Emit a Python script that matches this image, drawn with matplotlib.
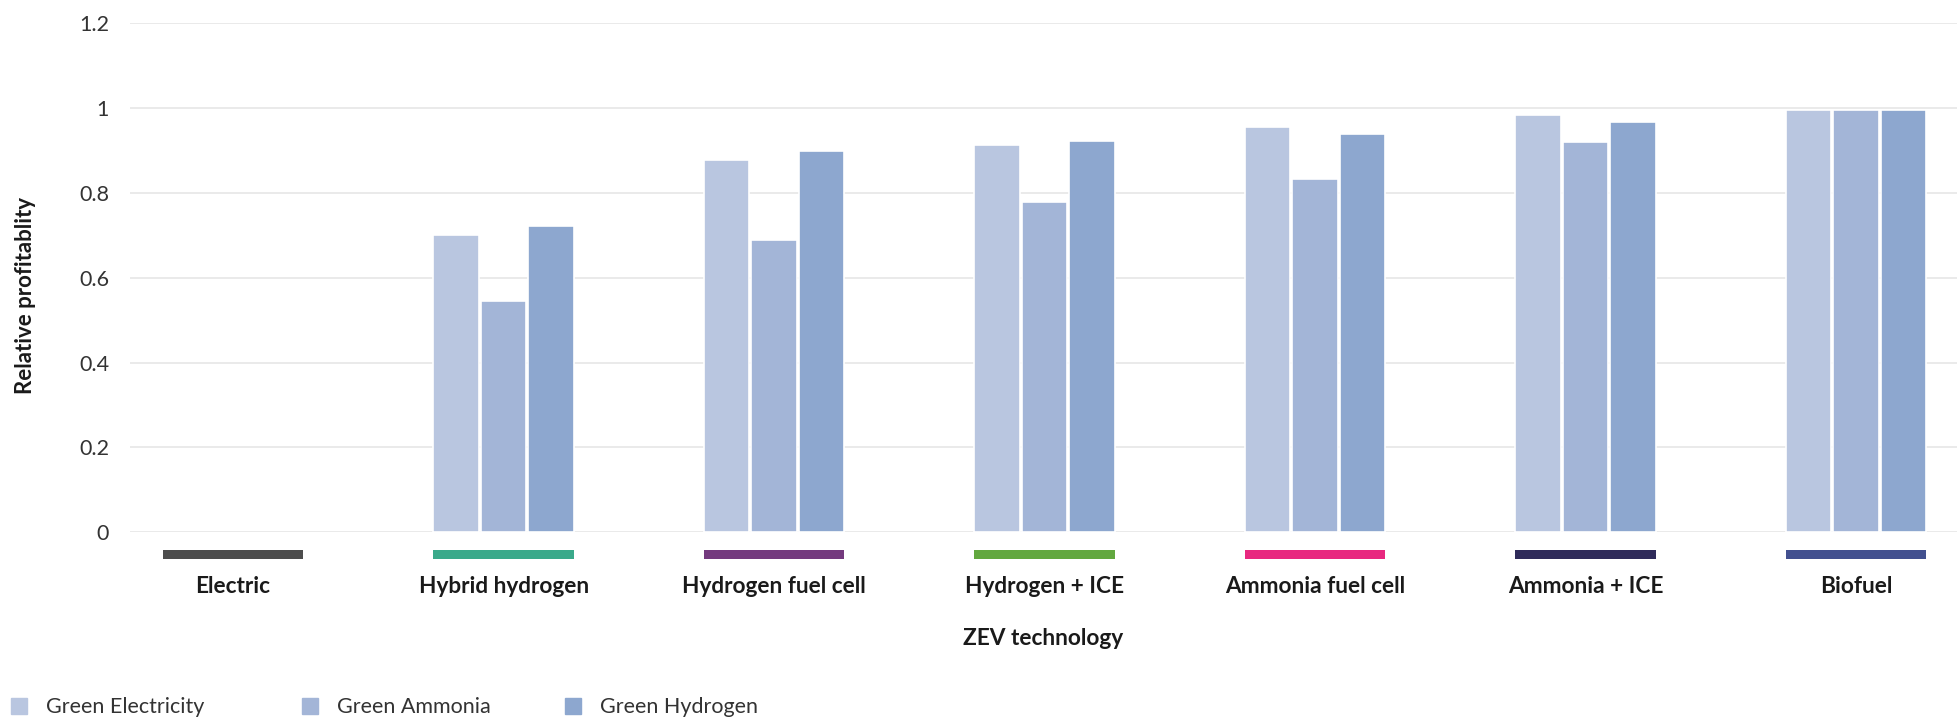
import matplotlib.pyplot as plt
from matplotlib.patches import Rectangle
from matplotlib.ticker import FuncFormatter
import numpy as np

categories = ["Electric", "Hybrid hydrogen", "Hydrogen fuel cell", "Hydrogen + ICE",
              "Ammonia fuel cell", "Ammonia + ICE", "Biofuel"]
category_colors = ["#4d4d4d", "#3aa98a", "#743a7e", "#62a83f", "#e8287f", "#2f2b5a", "#42508f"]

series_names = ["Green Electricity", "Green Ammonia", "Green Hydrogen"]
series_colors = ["#b9c6e0", "#a3b5d7", "#8da7cf"]

green_electricity = [np.nan, 0.700, 0.878, 0.913, 0.955, 0.984, 0.995]
green_ammonia = [np.nan, 0.545, 0.690, 0.778, 0.833, 0.920, 0.995]
green_hydrogen = [np.nan, 0.722, 0.899, 0.922, 0.939, 0.967, 0.995]

plt.rcParams['font.family'] = ['Lato', 'DejaVu Sans']

fig = plt.figure(figsize=(19.57, 7.2), dpi=100)
ax = fig.add_axes([130 / 1957, 0.2607, 1 - 130 / 1957, 0.7069])

x = np.arange(len(categories))
slot = 0.1756
for i, (vals, col) in enumerate(zip([green_electricity, green_ammonia, green_hydrogen], series_colors)):
    ax.bar(x + (i - 1) * slot, vals, width=0.168, color=col, edgecolor='white',
           linewidth=1.2, zorder=3)

# coloured marker under each category
ax.bar(x, 0.021, bottom=-0.063, width=0.52, color=category_colors, clip_on=False, zorder=3)

ax.set_xlim(-0.381, 6.373)
ax.set_ylim(0, 1.2)
ax.set_yticks(np.arange(0, 1.21, 0.2))
ax.yaxis.set_major_formatter(FuncFormatter(lambda v, p: '%g' % round(v, 1)))
ax.grid(axis='y', color='#e6e6e6', linewidth=1.2, zorder=0)
ax.set_axisbelow(True)
for s in ax.spines.values():
    s.set_visible(False)
ax.tick_params(axis='y', length=0, pad=15, labelsize=15.5, labelcolor='#333333')
ax.set_xticks(x, categories)
ax.tick_params(axis='x', length=0, pad=31.5, labelsize=16.3)
for lab in ax.get_xticklabels():
    lab.set_fontweight('bold')
    lab.set_color('#1a1a1a')

ax.set_xlabel('ZEV technology', fontsize=16.3, fontweight='bold', color='#1a1a1a', labelpad=22)
fig.text(26 / 1957, 1 - 295 / 720, 'Relative profitablity', rotation=90, ha='center',
         va='center', fontsize=16, fontweight='bold', color='#1a1a1a')

# legend
legend_x = [11, 302, 565]
for name, col, lx in zip(series_names, series_colors, legend_x):
    fig.patches.append(Rectangle((lx / 1957, 1 - 714 / 720), 16 / 1957, 16 / 720,
                                 transform=fig.transFigure, color=col))
    fig.text((lx + 35) / 1957, 1 - 707 / 720, name, ha='left', va='center',
             fontsize=15.5, color='#333333')

fig.savefig('out.png', dpi=100)
